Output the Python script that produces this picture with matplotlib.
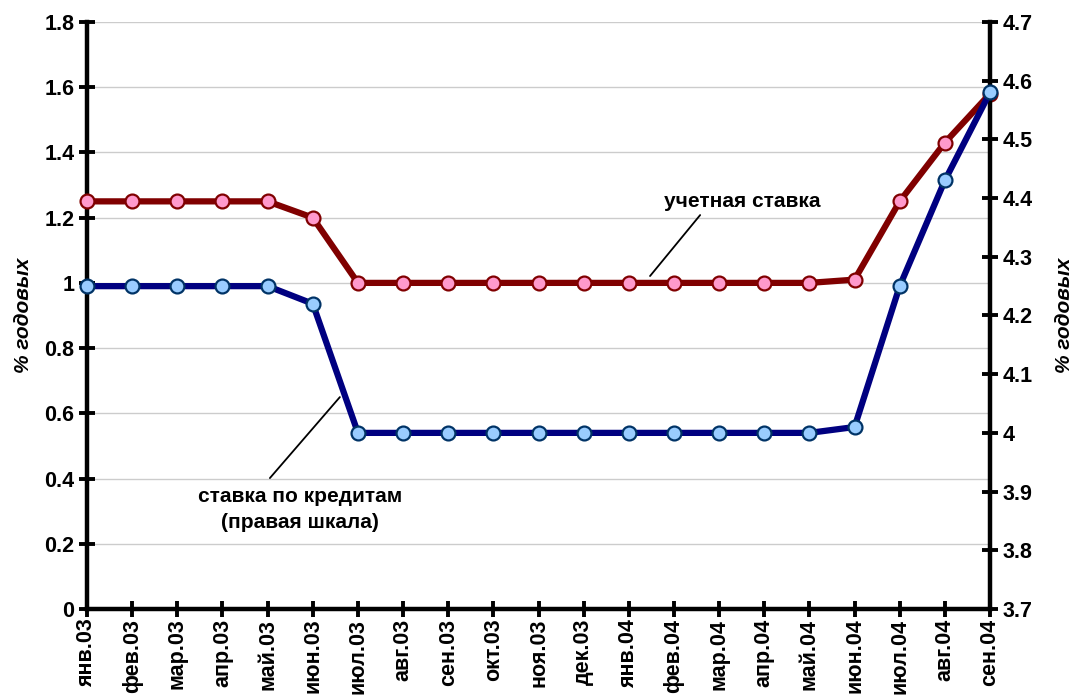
import matplotlib
matplotlib.use("Agg")
import matplotlib.pyplot as plt
import numpy as np

plt.rcParams['font.family'] = ['Liberation Sans', 'DejaVu Sans']
plt.rcParams['font.weight'] = 'bold'

months = ["янв.03", "фев.03", "мар.03", "апр.03", "май.03", "июн.03", "июл.03",
          "авг.03", "сен.03", "окт.03", "ноя.03", "дек.03", "янв.04", "фев.04",
          "мар.04", "апр.04", "май.04", "июн.04", "июл.04", "авг.04", "сен.04"]

# discount rate, % per annum (left scale)
discount_rate = [1.25, 1.25, 1.25, 1.25, 1.25, 1.20, 1.00, 1.00, 1.00, 1.00, 1.00,
                 1.00, 1.00, 1.00, 1.00, 1.00, 1.00, 1.01, 1.25, 1.43, 1.58]

# lending rate, % per annum (right scale)
lending_rate = [4.25, 4.25, 4.25, 4.25, 4.25, 4.22, 4.00, 4.00, 4.00, 4.00, 4.00,
                4.00, 4.00, 4.00, 4.00, 4.00, 4.00, 4.01, 4.25, 4.43, 4.58]

left_ticks = [0, 0.2, 0.4, 0.6, 0.8, 1, 1.2, 1.4, 1.6, 1.8]
left_tick_labels = ["0", "0.2", "0.4", "0.6", "0.8", "1", "1.2", "1.4", "1.6", "1.8"]
right_ticks = [3.7, 3.8, 3.9, 4.0, 4.1, 4.2, 4.3, 4.4, 4.5, 4.6, 4.7]
right_tick_labels = ["3.7", "3.8", "3.9", "4", "4.1", "4.2", "4.3", "4.4", "4.5", "4.6", "4.7"]

fig = plt.figure(figsize=(10.72, 6.99), dpi=100)
ax = fig.add_axes([0.0812, 0.1288, 0.8423, 0.8397])
ax2 = ax.twinx()

x = np.arange(len(months))
FS = 15
TFS = 15.5

ax.plot(x, discount_rate, color="#800000", lw=4.5, marker="o", ms=10,
        mfc="#FF99CC", mec="#800000", mew=1.6, zorder=3, clip_on=False)
ax2.plot(x, lending_rate, color="#000080", lw=4.5, marker="o", ms=10,
         mfc="#99CCFF", mec="#003366", mew=1.6, zorder=3, clip_on=False)

ax.set_xlim(0, len(months) - 1)
ax.set_ylim(0, 1.8)
ax2.set_ylim(3.7, 4.7)

ax.set_yticks(left_ticks)
ax.set_yticklabels(left_tick_labels, fontsize=TFS, fontweight="bold")
ax2.set_yticks(right_ticks)
ax2.set_yticklabels(right_tick_labels, fontsize=TFS, fontweight="bold")
ax.set_xticks(x)
ax.set_xticklabels(months, rotation=90, fontsize=TFS, fontweight="bold")

ax.yaxis.grid(True, color="#cccccc", lw=1)
ax.set_axisbelow(True)

for a in (ax, ax2):
    a.spines["top"].set_visible(False)
    for s in ("left", "right", "bottom"):
        a.spines[s].set_linewidth(3.2)
        a.spines[s].set_color("black")
    a.tick_params(axis="both", direction="inout", length=12, width=2.8, pad=3)
ax.spines["right"].set_visible(False)
ax2.spines["left"].set_visible(False)
ax2.spines["bottom"].set_visible(False)
ax.tick_params(axis="x", pad=1)

ax.set_ylabel("% годовых", fontsize=FS, fontweight="bold", style="italic", labelpad=8)
ax2.set_ylabel("% годовых", fontsize=FS, fontweight="bold", style="italic",
               rotation=90, labelpad=16)

# callout labels with leader lines
ax.text(14.51, 1.251, "учетная ставка", fontsize=FS, fontweight="bold",
        ha="center", va="center")
ax.annotate("", xy=(12.47, 1.021), xytext=(13.58, 1.208),
            arrowprops=dict(arrowstyle="-", color="black", lw=1.3,
                            shrinkA=0, shrinkB=0))
ax2.text(4.72, 3.870, "ставка по кредитам\n(правая шкала)", fontsize=FS,
         fontweight="bold", ha="center", va="center", linespacing=1.45)
ax2.annotate("", xy=(5.60, 4.061), xytext=(4.05, 3.923),
             arrowprops=dict(arrowstyle="-", color="black", lw=1.3,
                             shrinkA=0, shrinkB=0))

fig.savefig("out.png", dpi=100)
